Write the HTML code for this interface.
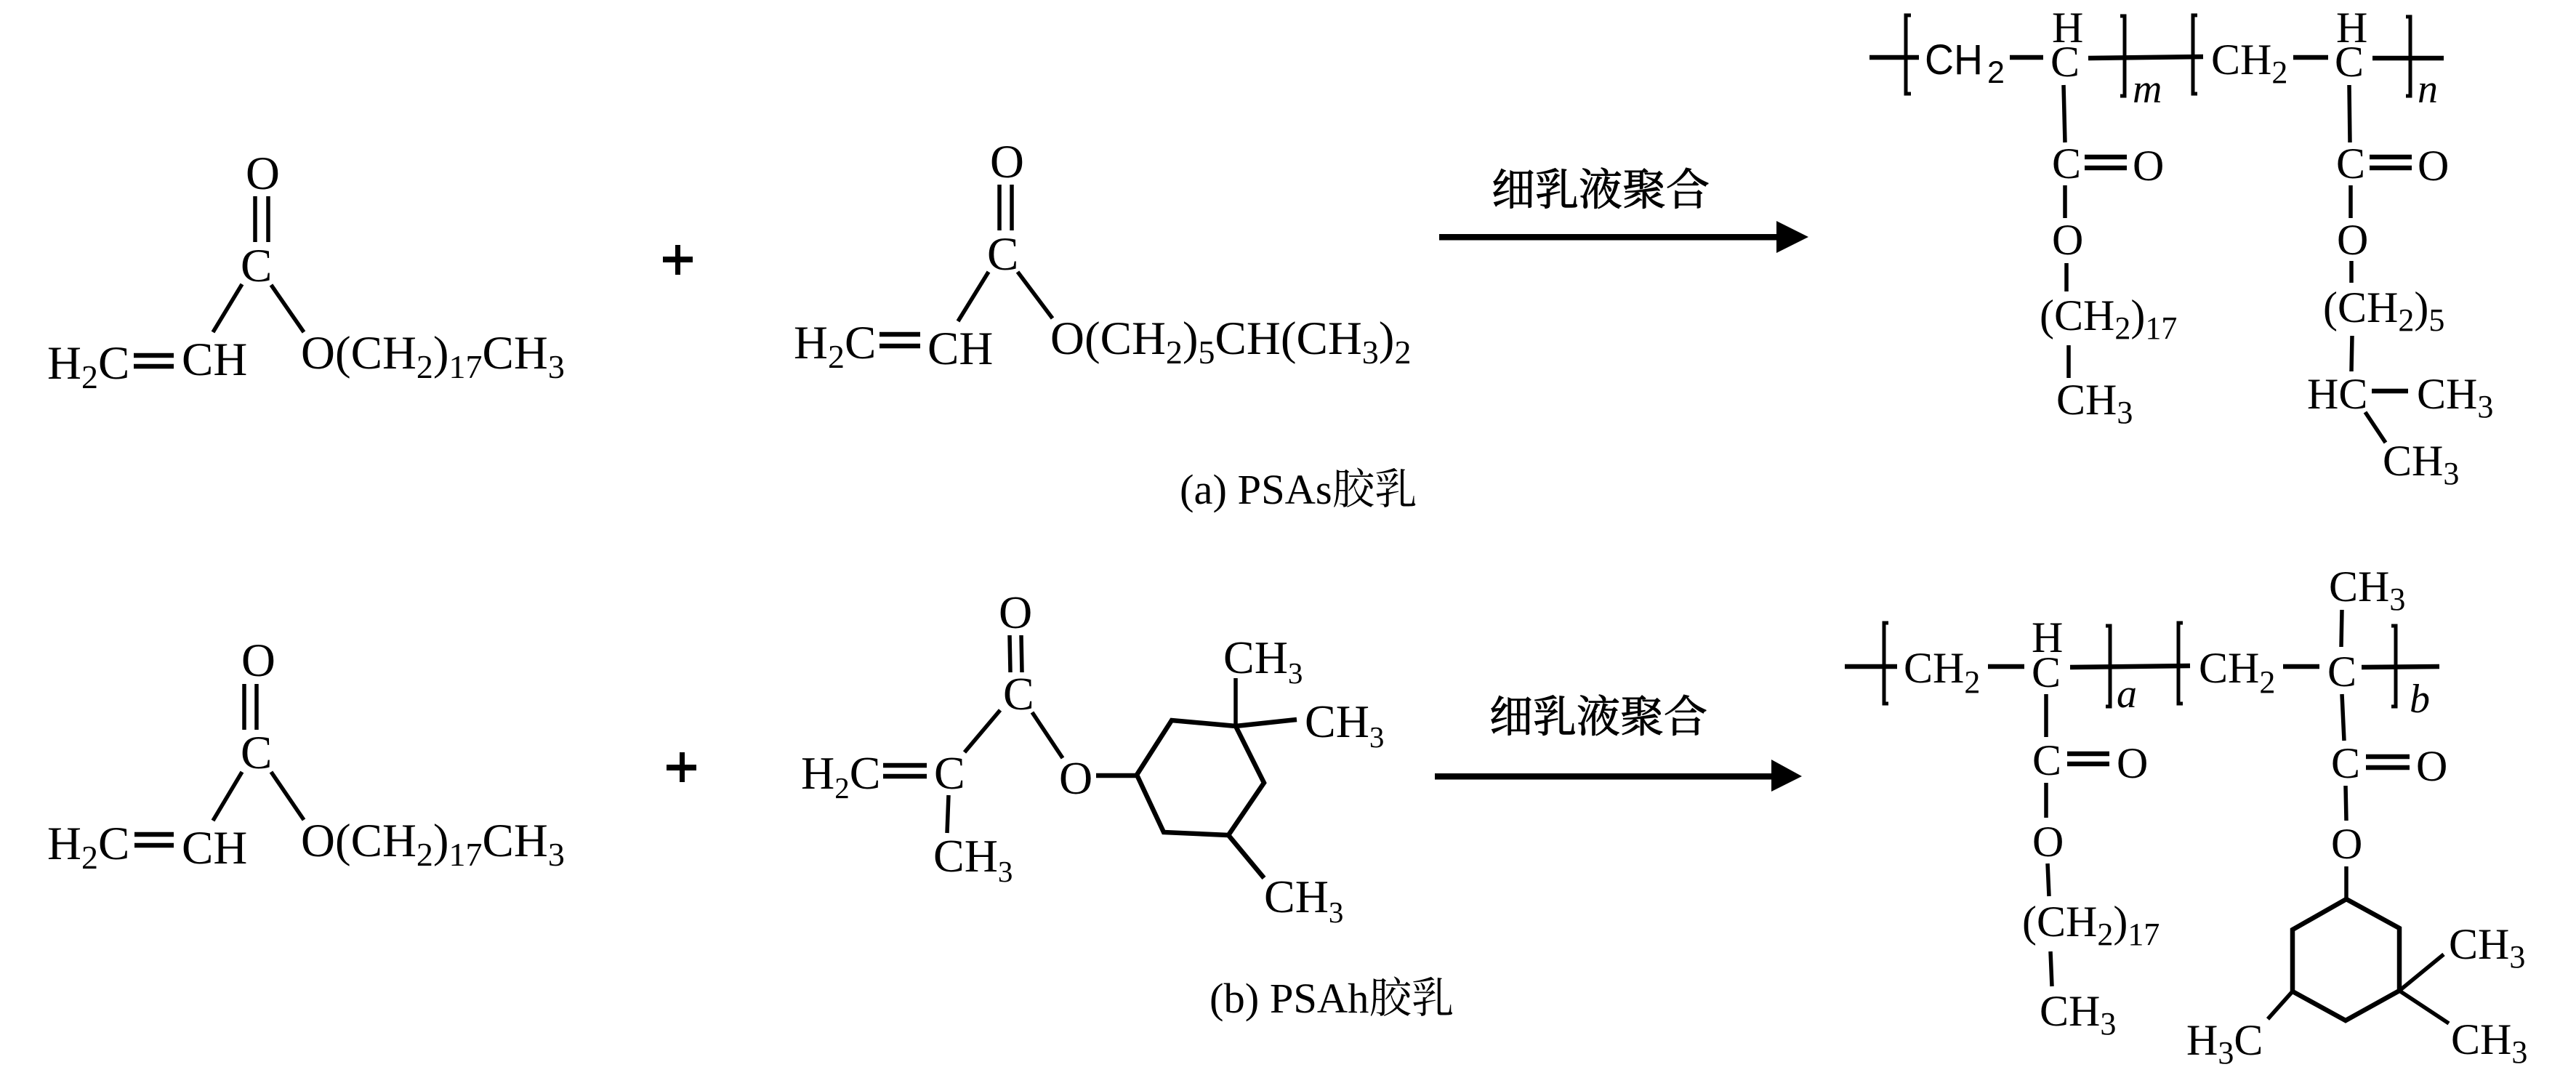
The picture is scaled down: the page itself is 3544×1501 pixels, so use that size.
<!DOCTYPE html>
<html><head><meta charset="utf-8">
<style>
html,body{margin:0;padding:0;background:#fff}
svg{display:block}
text{font-family:"Liberation Serif","Noto Serif CJK SC",serif;fill:#000}
.m{font-size:65px}.m tspan.s{font-size:46px}
.n{font-size:64px}.n tspan.s{font-size:41px}
.p{font-size:60px}.p tspan.s{font-size:44px}
.i{font-size:56px;font-style:italic}
.c{font-size:60px;font-family:"Noto Serif CJK SC",serif;font-weight:400;stroke:#000;stroke-width:1}
.l{font-size:58.5px}
.sans{font-family:"Liberation Sans",sans-serif;font-size:58px}
.ss{font-family:"Liberation Sans",sans-serif;font-size:43px}
line,polyline,path.b{stroke:#000;fill:none}
.k line{stroke-width:5.5}
.t line{stroke-width:6.5}
.r{stroke-width:6.5;stroke-linejoin:miter}
.br{stroke-width:5}
</style></head><body>
<svg width="3544" height="1501" viewBox="0 0 3544 1501" xmlns="http://www.w3.org/2000/svg">
<rect width="3544" height="1501" fill="#fff"/>

<!-- Row A monomer 1 -->
<g class="k">
<line x1="351" y1="270" x2="351" y2="333"/><line x1="369" y1="270" x2="369" y2="333"/>
<line x1="333" y1="391" x2="293" y2="457"/><line x1="373" y1="392" x2="418" y2="457"/>
</g>
<g class="t"><line x1="184" y1="489" x2="239" y2="489"/><line x1="184" y1="504" x2="239" y2="504"/></g>
<text class="m" x="338" y="260">O</text>
<text class="m" x="331" y="387">C</text>
<text class="m" x="65" y="521">H<tspan class="s" dy="13">2</tspan><tspan dy="-13">C</tspan></text>
<text class="m" x="250" y="516">CH</text>
<text class="m" x="414" y="507">O(CH<tspan class="s" dy="13">2</tspan><tspan dy="-13">)</tspan><tspan class="s" dy="13">17</tspan><tspan dy="-13">CH</tspan><tspan class="s" dy="13">3</tspan></text>
<rect x="912" y="353" width="41" height="8"/><rect x="929" y="337" width="7" height="41"/>

<!-- Row A monomer 2 -->
<g class="k">
<line x1="1375" y1="254" x2="1375" y2="317"/><line x1="1392" y1="254" x2="1392" y2="317"/>
<line x1="1360" y1="374" x2="1318" y2="442"/><line x1="1400" y1="374" x2="1448" y2="438"/>
</g>
<g class="t"><line x1="1210" y1="460" x2="1266" y2="460"/><line x1="1210" y1="476" x2="1266" y2="476"/></g>
<text class="m" x="1362" y="244">O</text>
<text class="m" x="1358" y="371">C</text>
<text class="m" x="1092" y="493">H<tspan class="s" dy="13">2</tspan><tspan dy="-13">C</tspan></text>
<text class="m" x="1276" y="501">CH</text>
<text class="m" x="1445" y="487">O(CH<tspan class="s" dy="13">2</tspan><tspan dy="-13">)</tspan><tspan class="s" dy="13">5</tspan><tspan dy="-13">CH(CH</tspan><tspan class="s" dy="13">3</tspan><tspan dy="-13">)</tspan><tspan class="s" dy="13">2</tspan></text>

<!-- Arrow A -->
<text class="c" x="2052" y="282">细乳液聚合</text>
<rect x="1980" y="322" width="466" height="8.5"/>
<polygon points="2444,304 2488,326 2444,348"/>
<text class="l" x="1623" y="693">(a) PSAs胶乳</text>

<!-- Polymer A -->
<g class="t">
<line x1="2572" y1="79" x2="2640" y2="79"/>
<line x1="2765" y1="79" x2="2811" y2="79"/>
<line x1="2873" y1="80" x2="3031" y2="78"/>
<line x1="3155" y1="79" x2="3203" y2="79"/>
<line x1="3264" y1="80" x2="3362" y2="80"/>
<line x1="2868" y1="216" x2="2926" y2="216"/><line x1="2868" y1="231" x2="2926" y2="231"/>
<line x1="3260" y1="216" x2="3318" y2="216"/><line x1="3260" y1="231" x2="3318" y2="231"/>
<line x1="3263" y1="538" x2="3313" y2="538"/>
</g>
<g class="k">
<line x1="2839" y1="117" x2="2841" y2="196"/><line x1="2841" y1="255" x2="2841" y2="300"/>
<line x1="2843" y1="362" x2="2843" y2="401"/><line x1="2846" y1="475" x2="2846" y2="520"/>
<line x1="3232" y1="117" x2="3233" y2="196"/><line x1="3234" y1="255" x2="3234" y2="300"/>
<line x1="3235" y1="359" x2="3235" y2="389"/><line x1="3236" y1="462" x2="3235" y2="511"/>
<line x1="3254" y1="567" x2="3282" y2="609"/>
</g>
<path class="b br" d="M2629 21H2622V129H2629"/>
<path class="b br" d="M2917 22H2923V132H2917"/>
<path class="b br" d="M3023 21H3017V129H3023"/>
<path class="b br" d="M3310 23H3316V132H3310"/>
<text class="sans" x="2648" y="102" textLength="80" lengthAdjust="spacingAndGlyphs">CH</text>
<text class="ss" x="2734" y="114">2</text>
<text class="p" x="2823" y="58">H</text>
<text class="p" x="2821" y="105">C</text>
<text class="i" x="2934" y="141">m</text>
<text class="p" x="3042" y="102">CH<tspan class="s" dy="12">2</tspan></text>
<text class="p" x="3214" y="58">H</text>
<text class="p" x="3212" y="105">C</text>
<text class="i" x="3326" y="141">n</text>
<text class="p" x="2823" y="245">C</text>
<text class="p" x="2934" y="248">O</text>
<text class="p" x="2823" y="350">O</text>
<text class="p" x="2806" y="454">(CH<tspan class="s" dy="12">2</tspan><tspan dy="-12">)</tspan><tspan class="s" dy="12">17</tspan></text>
<text class="p" x="2829" y="570">CH<tspan class="s" dy="12">3</tspan></text>
<text class="p" x="3214" y="245">C</text>
<text class="p" x="3326" y="248">O</text>
<text class="p" x="3215" y="350">O</text>
<text class="p" x="3196" y="443">(CH<tspan class="s" dy="12">2</tspan><tspan dy="-12">)</tspan><tspan class="s" dy="12">5</tspan></text>
<text class="p" x="3174" y="562">HC</text>
<text class="p" x="3325" y="562">CH<tspan class="s" dy="12">3</tspan></text>
<text class="p" x="3278" y="654">CH<tspan class="s" dy="12">3</tspan></text>

<!-- Row B monomer 1 -->
<g class="k">
<line x1="336" y1="941" x2="336" y2="1004"/><line x1="353" y1="941" x2="353" y2="1004"/>
<line x1="333" y1="1062" x2="293" y2="1129"/><line x1="373" y1="1062" x2="418" y2="1128"/>
</g>
<g class="t"><line x1="185" y1="1148" x2="239" y2="1148"/><line x1="185" y1="1163" x2="239" y2="1163"/></g>
<text class="m" x="332" y="930">O</text>
<text class="m" x="331" y="1057">C</text>
<text class="m" x="65" y="1182">H<tspan class="s" dy="13">2</tspan><tspan dy="-13">C</tspan></text>
<text class="m" x="250" y="1188">CH</text>
<text class="m" x="414" y="1178">O(CH<tspan class="s" dy="13">2</tspan><tspan dy="-13">)</tspan><tspan class="s" dy="13">17</tspan><tspan dy="-13">CH</tspan><tspan class="s" dy="13">3</tspan></text>
<rect x="917" y="1052" width="41" height="8"/><rect x="935" y="1035" width="7" height="41"/>

<!-- Row B monomer 2 -->
<g class="k">
<line x1="1389" y1="874" x2="1390" y2="925"/><line x1="1405" y1="874" x2="1406" y2="925"/>
<line x1="1376" y1="977" x2="1327" y2="1035"/><line x1="1420" y1="980" x2="1462" y2="1043"/>
<line x1="1305" y1="1094" x2="1303" y2="1146"/>
<line x1="1700" y1="933" x2="1700" y2="999"/>
</g>
<g class="t">
<line x1="1215" y1="1053" x2="1275" y2="1053"/><line x1="1215" y1="1068" x2="1275" y2="1068"/>
<line x1="1508" y1="1067" x2="1564" y2="1067"/>
<line x1="1700" y1="999" x2="1784" y2="990"/>
<line x1="1690" y1="1149" x2="1739" y2="1208"/>
</g>
<polygon class="r" points="1564,1066 1612,991 1700,999 1739,1077 1690,1149 1601,1145" fill="none" stroke="#000"/>
<text class="n" x="1374" y="864">O</text>
<text class="n" x="1380" y="976">C</text>
<text class="n" x="1102" y="1085">H<tspan class="s" dy="13">2</tspan><tspan dy="-13">C</tspan></text>
<text class="n" x="1285" y="1085">C</text>
<text class="n" x="1284" y="1199">CH<tspan class="s" dy="14">3</tspan></text>
<text class="n" x="1457" y="1092">O</text>
<text class="n" x="1683" y="926">CH<tspan class="s" dy="14">3</tspan></text>
<text class="n" x="1795" y="1014">CH<tspan class="s" dy="14">3</tspan></text>
<text class="n" x="1739" y="1255">CH<tspan class="s" dy="14">3</tspan></text>

<!-- Arrow B -->
<text class="c" x="2049" y="1007">细乳液聚合</text>
<rect x="1974" y="1064" width="465" height="8.5"/>
<polygon points="2437,1045 2479,1068 2437,1089"/>
<text class="l" x="1664" y="1393">(b) PSAh胶乳</text>

<!-- Polymer B -->
<g class="t">
<line x1="2538" y1="917" x2="2610" y2="917"/>
<line x1="2735" y1="917" x2="2785" y2="917"/>
<line x1="2848" y1="918" x2="3013" y2="916"/>
<line x1="3141" y1="917" x2="3191" y2="917"/>
<line x1="3249" y1="918" x2="3356" y2="917"/>
<line x1="2844" y1="1037" x2="2902" y2="1037"/><line x1="2844" y1="1051" x2="2902" y2="1051"/>
<line x1="3255" y1="1041" x2="3315" y2="1041"/><line x1="3255" y1="1056" x2="3315" y2="1056"/>
</g>
<g class="k">
<line x1="3222" y1="839" x2="3221" y2="890"/>
<line x1="2815" y1="955" x2="2815" y2="1014"/><line x1="2815" y1="1077" x2="2815" y2="1125"/>
<line x1="2817" y1="1188" x2="2819" y2="1233"/><line x1="2821" y1="1309" x2="2823" y2="1357"/>
<line x1="3222" y1="955" x2="3225" y2="1019"/><line x1="3227" y1="1081" x2="3228" y2="1129"/>
<line x1="3228" y1="1192" x2="3228" y2="1237"/>
<line x1="3301" y1="1363" x2="3362" y2="1313"/>
<line x1="3301" y1="1363" x2="3369" y2="1408"/>
<line x1="3154" y1="1364" x2="3120" y2="1402"/>
</g>
<polygon class="r" points="3228,1237 3301,1277 3301,1363 3227,1404 3154,1364 3154,1279" fill="none" stroke="#000"/>
<path class="b br" d="M2598 857H2592V968H2598"/>
<path class="b br" d="M2897 861H2903V972H2897"/>
<path class="b br" d="M3003 857H2997V968H3003"/>
<path class="b br" d="M3290 861H3296V972H3290"/>
<text class="p" x="2619" y="939">CH<tspan class="s" dy="14">2</tspan></text>
<text class="p" x="2795" y="897">H</text>
<text class="p" x="2795" y="945">C</text>
<text class="i" x="2912" y="973">a</text>
<text class="p" x="3025" y="939">CH<tspan class="s" dy="14">2</tspan></text>
<text class="p" x="3202" y="944">C</text>
<text class="i" x="3315" y="980">b</text>
<text class="p" x="3204" y="827">CH<tspan class="s" dy="12">3</tspan></text>
<text class="p" x="2796" y="1066">C</text>
<text class="p" x="2912" y="1070">O</text>
<text class="p" x="2796" y="1178">O</text>
<text class="p" x="2782" y="1288">(CH<tspan class="s" dy="12">2</tspan><tspan dy="-12">)</tspan><tspan class="s" dy="12">17</tspan></text>
<text class="p" x="2806" y="1411">CH<tspan class="s" dy="12">3</tspan></text>
<text class="p" x="3207" y="1070">C</text>
<text class="p" x="3324" y="1074">O</text>
<text class="p" x="3207" y="1181">O</text>
<text class="p" x="3369" y="1319">CH<tspan class="s" dy="12">3</tspan></text>
<text class="p" x="3372" y="1450">CH<tspan class="s" dy="12">3</tspan></text>
<text class="p" x="3008" y="1451">H<tspan class="s" dy="12">3</tspan><tspan dy="-12">C</tspan></text>
</svg>
</body></html>
